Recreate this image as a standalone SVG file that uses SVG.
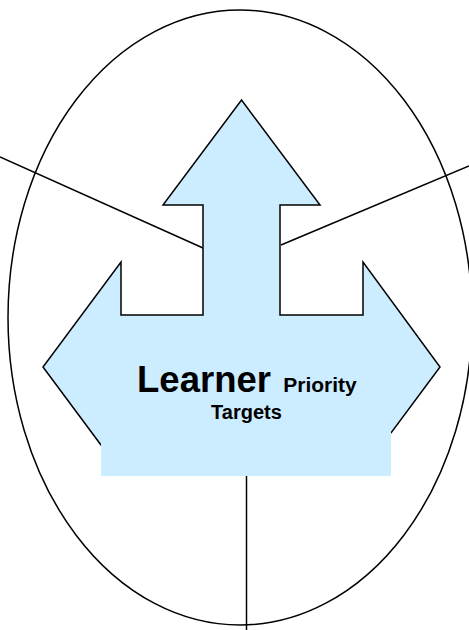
<svg xmlns="http://www.w3.org/2000/svg" width="469" height="630" viewBox="0 0 469 630">
<style>
.ln{stroke:#000;stroke-width:1.5;fill:none}
.arrow{fill:#CCECFF;stroke:#000;stroke-width:1.5;stroke-linejoin:miter}
.t{font-family:"Liberation Sans",Arial,sans-serif;font-weight:bold;fill:#000}
</style>
<rect width="469" height="630" fill="#fff"/>
<g id="ellipse"><ellipse class="ln" cx="240" cy="317.5" rx="232" ry="307.5"/></g>
<g id="connectors">
<line class="ln" x1="0" y1="157" x2="203" y2="248"/>
<line class="ln" x1="469" y1="166" x2="281" y2="245"/>
<line class="ln" x1="246.5" y1="476" x2="246.5" y2="630"/>
</g>
<g id="arrow">
<polygon class="arrow" points="241.5,100 320,205 280,205 280,315 363,315 363,262 440,367 391,433 300,470 180,470 101,445 43,367 121,262 121,315 203,315 203,205 163,205"/>
<rect x="101" y="425" width="290" height="51" fill="#CCECFF"/>
<text class="t" x="204" y="392" font-size="36.5" text-anchor="middle">Learner</text>
<text class="t" x="320" y="392" font-size="21" text-anchor="middle">Priority</text>
<text class="t" x="246.5" y="419" font-size="20" text-anchor="middle">Targets</text>
</g>
</svg>
